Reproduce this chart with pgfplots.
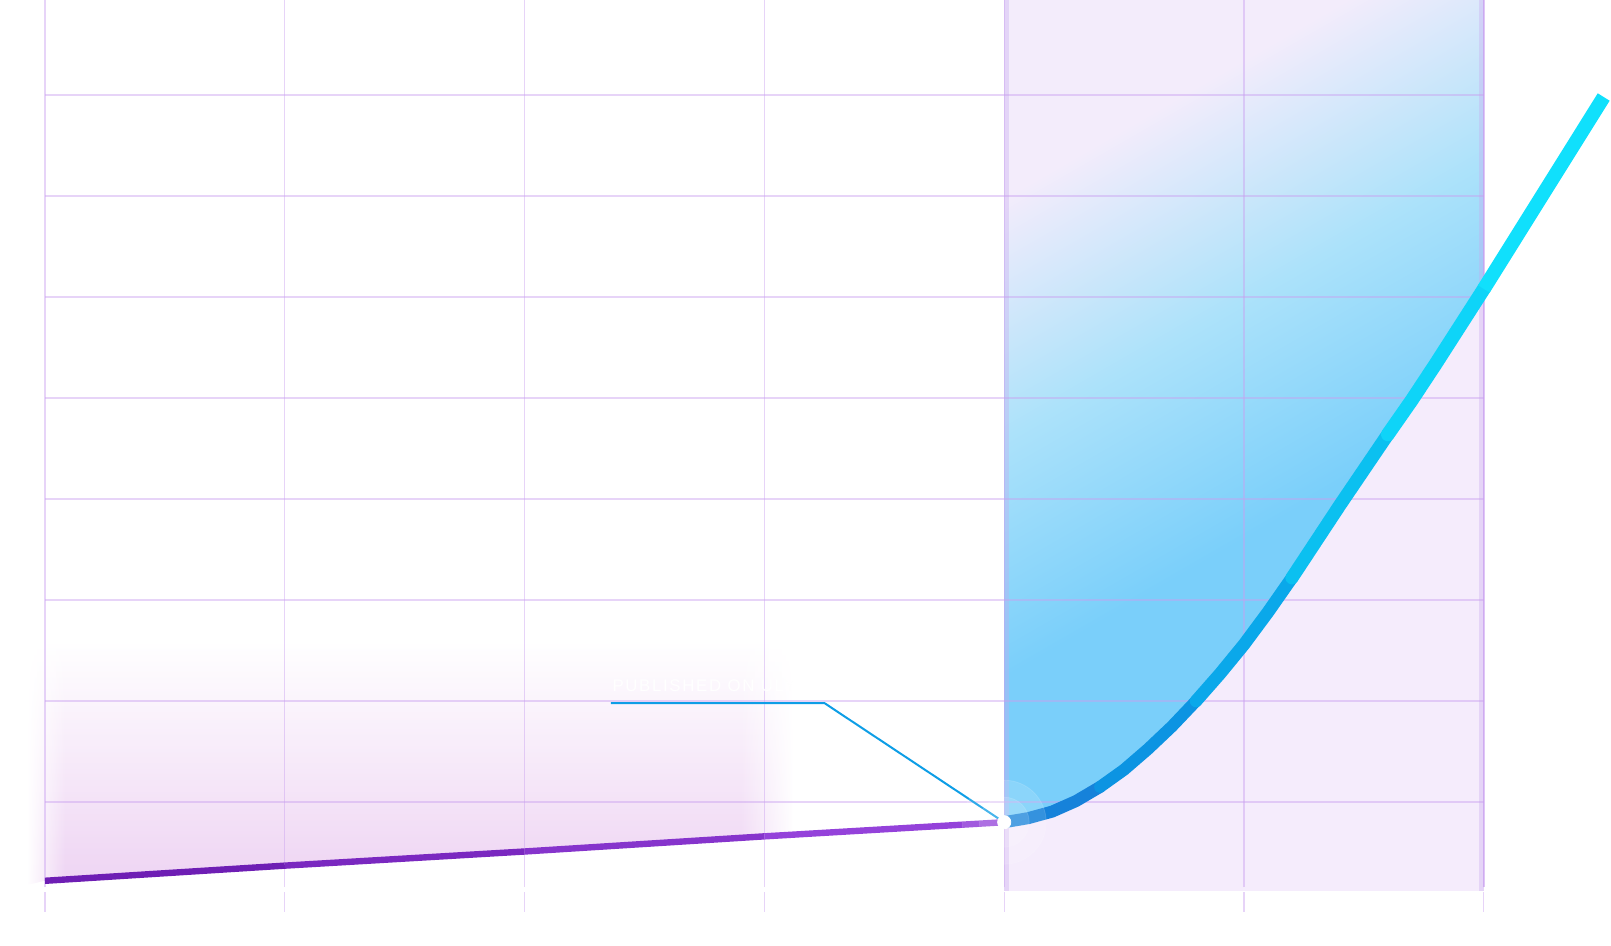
\documentclass[border=0pt]{standalone}
\usepackage{pgfplots}
\usepackage{pgfplotstable}
\pgfplotsset{compat=1.18}
\usepackage{fontspec}
\setmainfont{Liberation Sans}
\newfontfamily\annfont[LetterSpace=10]{Liberation Sans}
\usetikzlibrary{fadings}
\definecolor{lav}{RGB}{243,236,251}
\definecolor{bandc}{RGB}{245,236,252}
\definecolor{blueB}{RGB}{122,207,250}
\definecolor{blueM}{RGB}{172,226,250}
\definecolor{gridc}{RGB}{201,160,240}
\definecolor{stripec}{RGB}{200,168,240}
\definecolor{leader}{RGB}{14,158,230}
\definecolor{glowc}{RGB}{238,212,243}
\definecolor{p1}{RGB}{110,30,180}
\definecolor{p2}{RGB}{122,40,192}
\definecolor{p3}{RGB}{134,52,204}
\definecolor{p4}{RGB}{148,66,218}
\definecolor{b1}{RGB}{22,130,218}
\definecolor{b2}{RGB}{12,148,226}
\definecolor{b3}{RGB}{10,168,234}
\definecolor{b4}{RGB}{11,192,240}
\definecolor{b5}{RGB}{14,212,248}
\definecolor{b6}{RGB}{16,224,252}
\pgfdeclareverticalshading{bluefill}{100bp}{color(0bp)=(blueB); color(42bp)=(blueB); color(57bp)=(blueM); color(72bp)=(lav); color(100bp)=(lav)}
\pgfdeclarehorizontalshading{glowmask}{100bp}{color(0bp)=(black); color(25bp)=(black); color(27.5bp)=(white); color(71.5bp)=(white); color(75bp)=(black); color(100bp)=(black)}
\pgfdeclarefading{glowfade}{\pgfuseshading{glowmask}}
\pgfplotstableread{
x y
0 0.22
1 0.37
2 0.51
3 0.66
4 0.80
}\histdata
\pgfplotstableread{
x y
4.0 0.80
4.1 0.84
4.2 0.905
4.3 1.01
4.4 1.15
4.5 1.32
4.6 1.525
4.7 1.75
4.8 2.00
4.9 2.27
5.0 2.56
5.1 2.88
5.2 3.22
5.3 3.58
5.4 3.94
5.5 4.29
5.6 4.64
5.7 4.98
5.8 5.34
5.9 5.71
6.0 6.08
6.1 6.46
6.2 6.84
6.3 7.22
6.4 7.60
6.5 7.98
}\projdata
\begin{document}
\begin{tikzpicture}
\begin{axis}[name=ax, scale only axis, width=805.5pt, height=472.5pt,
  xmin=-0.18766, xmax=6.5305, ymin=-0.41584, ymax=8.9406,
  hide axis, clip=true]
% glow under history line
\addplot[draw=none, top color=white, bottom color=glowc, path fading=glowfade]
  table[skip coords between index={4}{5}] {\histdata}
  -- (axis cs:3.12,0.675) -- (axis cs:3.12,2.6) -- (axis cs:-0.07,2.6) -- (axis cs:-0.07,0.18) -- cycle;
% forecast band
\fill[bandc] (axis cs:4,0.119) rectangle (axis cs:6,8.9406);
% blue area above projection
\addplot[draw=none, shading=bluefill, shading angle=30]
  table[skip coords between index={21}{26}] {\projdata}
  -- (axis cs:6,8.9406) -- (axis cs:4,8.9406) -- cycle;
% band border stripes
\fill[stripec, opacity=0.35] (axis cs:4,0.119) rectangle (axis cs:4.021,8.9406);
\fill[stripec, opacity=0.35] (axis cs:5.979,0.119) rectangle (axis cs:6,8.9406);
% grid
\pgfplotsinvokeforeach{0,...,6}{
  \draw[gridc, opacity=0.45, line width=0.65pt] (axis cs:#1,0.158) -- (axis cs:#1,8.95);
  \draw[gridc, opacity=0.45, line width=0.65pt] (axis cs:#1,0.109) -- (axis cs:#1,-0.089);
}
\pgfplotsinvokeforeach{1,...,8}{
  \draw[gridc, opacity=0.45, line width=0.65pt] (axis cs:0,#1) -- (axis cs:6,#1);
}
\draw[gridc, opacity=0.6, line width=0.8pt] (axis cs:6,0.158) -- (axis cs:6,8.95);
% annotation
\draw[leader, line width=1pt] (axis cs:2.36,1.98) -- (axis cs:3.25,1.98) -- (axis cs:3.98,0.83);
\node[anchor=base west, text=white, inner sep=0pt, font=\annfont\fontsize{8.4}{10}\selectfont] at (axis cs:2.365,2.09) {PUBLISHED ON ULY};
% history line (colour steps along x)
\addplot[p1, line width=3.2pt, line cap=butt, restrict x to domain=-0.01:1.01] table {\histdata};
\addplot[p2, line width=3.2pt, line cap=butt, restrict x to domain=0.99:2.01] table {\histdata};
\addplot[p3, line width=3.2pt, line cap=butt, restrict x to domain=1.99:3.01] table {\histdata};
\addplot[p4, line width=3.2pt, line cap=butt, restrict x to domain=2.99:4.01] table {\histdata};
% projection curve (colour steps along x)
\addplot[b1, line width=6pt, line cap=round, line join=round, restrict x to domain=3.99:4.41] table {\projdata};
\addplot[b2, line width=6pt, line cap=round, line join=round, restrict x to domain=4.39:4.81] table {\projdata};
\addplot[b3, line width=6.3pt, line cap=round, line join=round, restrict x to domain=4.79:5.21] table {\projdata};
\addplot[b4, line width=6.6pt, line cap=round, line join=round, restrict x to domain=5.19:5.61] table {\projdata};
\addplot[b5, line width=6.9pt, line cap=round, line join=round, restrict x to domain=5.59:6.01] table {\projdata};
\addplot[b6, line width=7pt, line cap=butt, line join=round, restrict x to domain=5.99:6.51] table {\projdata};
% halo and marker
\addplot[only marks, mark=*, mark size=21pt, white, opacity=0.13] coordinates {(4,0.80)};
\addplot[only marks, mark=*, mark size=12.5pt, white, opacity=0.13] coordinates {(4,0.80)};
\addplot[only marks, mark=*, mark size=3.3pt, white] coordinates {(4,0.80)};
\end{axis}
\pgfresetboundingbox
\useasboundingbox (ax.south west) rectangle (ax.north east);
\end{tikzpicture}
\end{document}
